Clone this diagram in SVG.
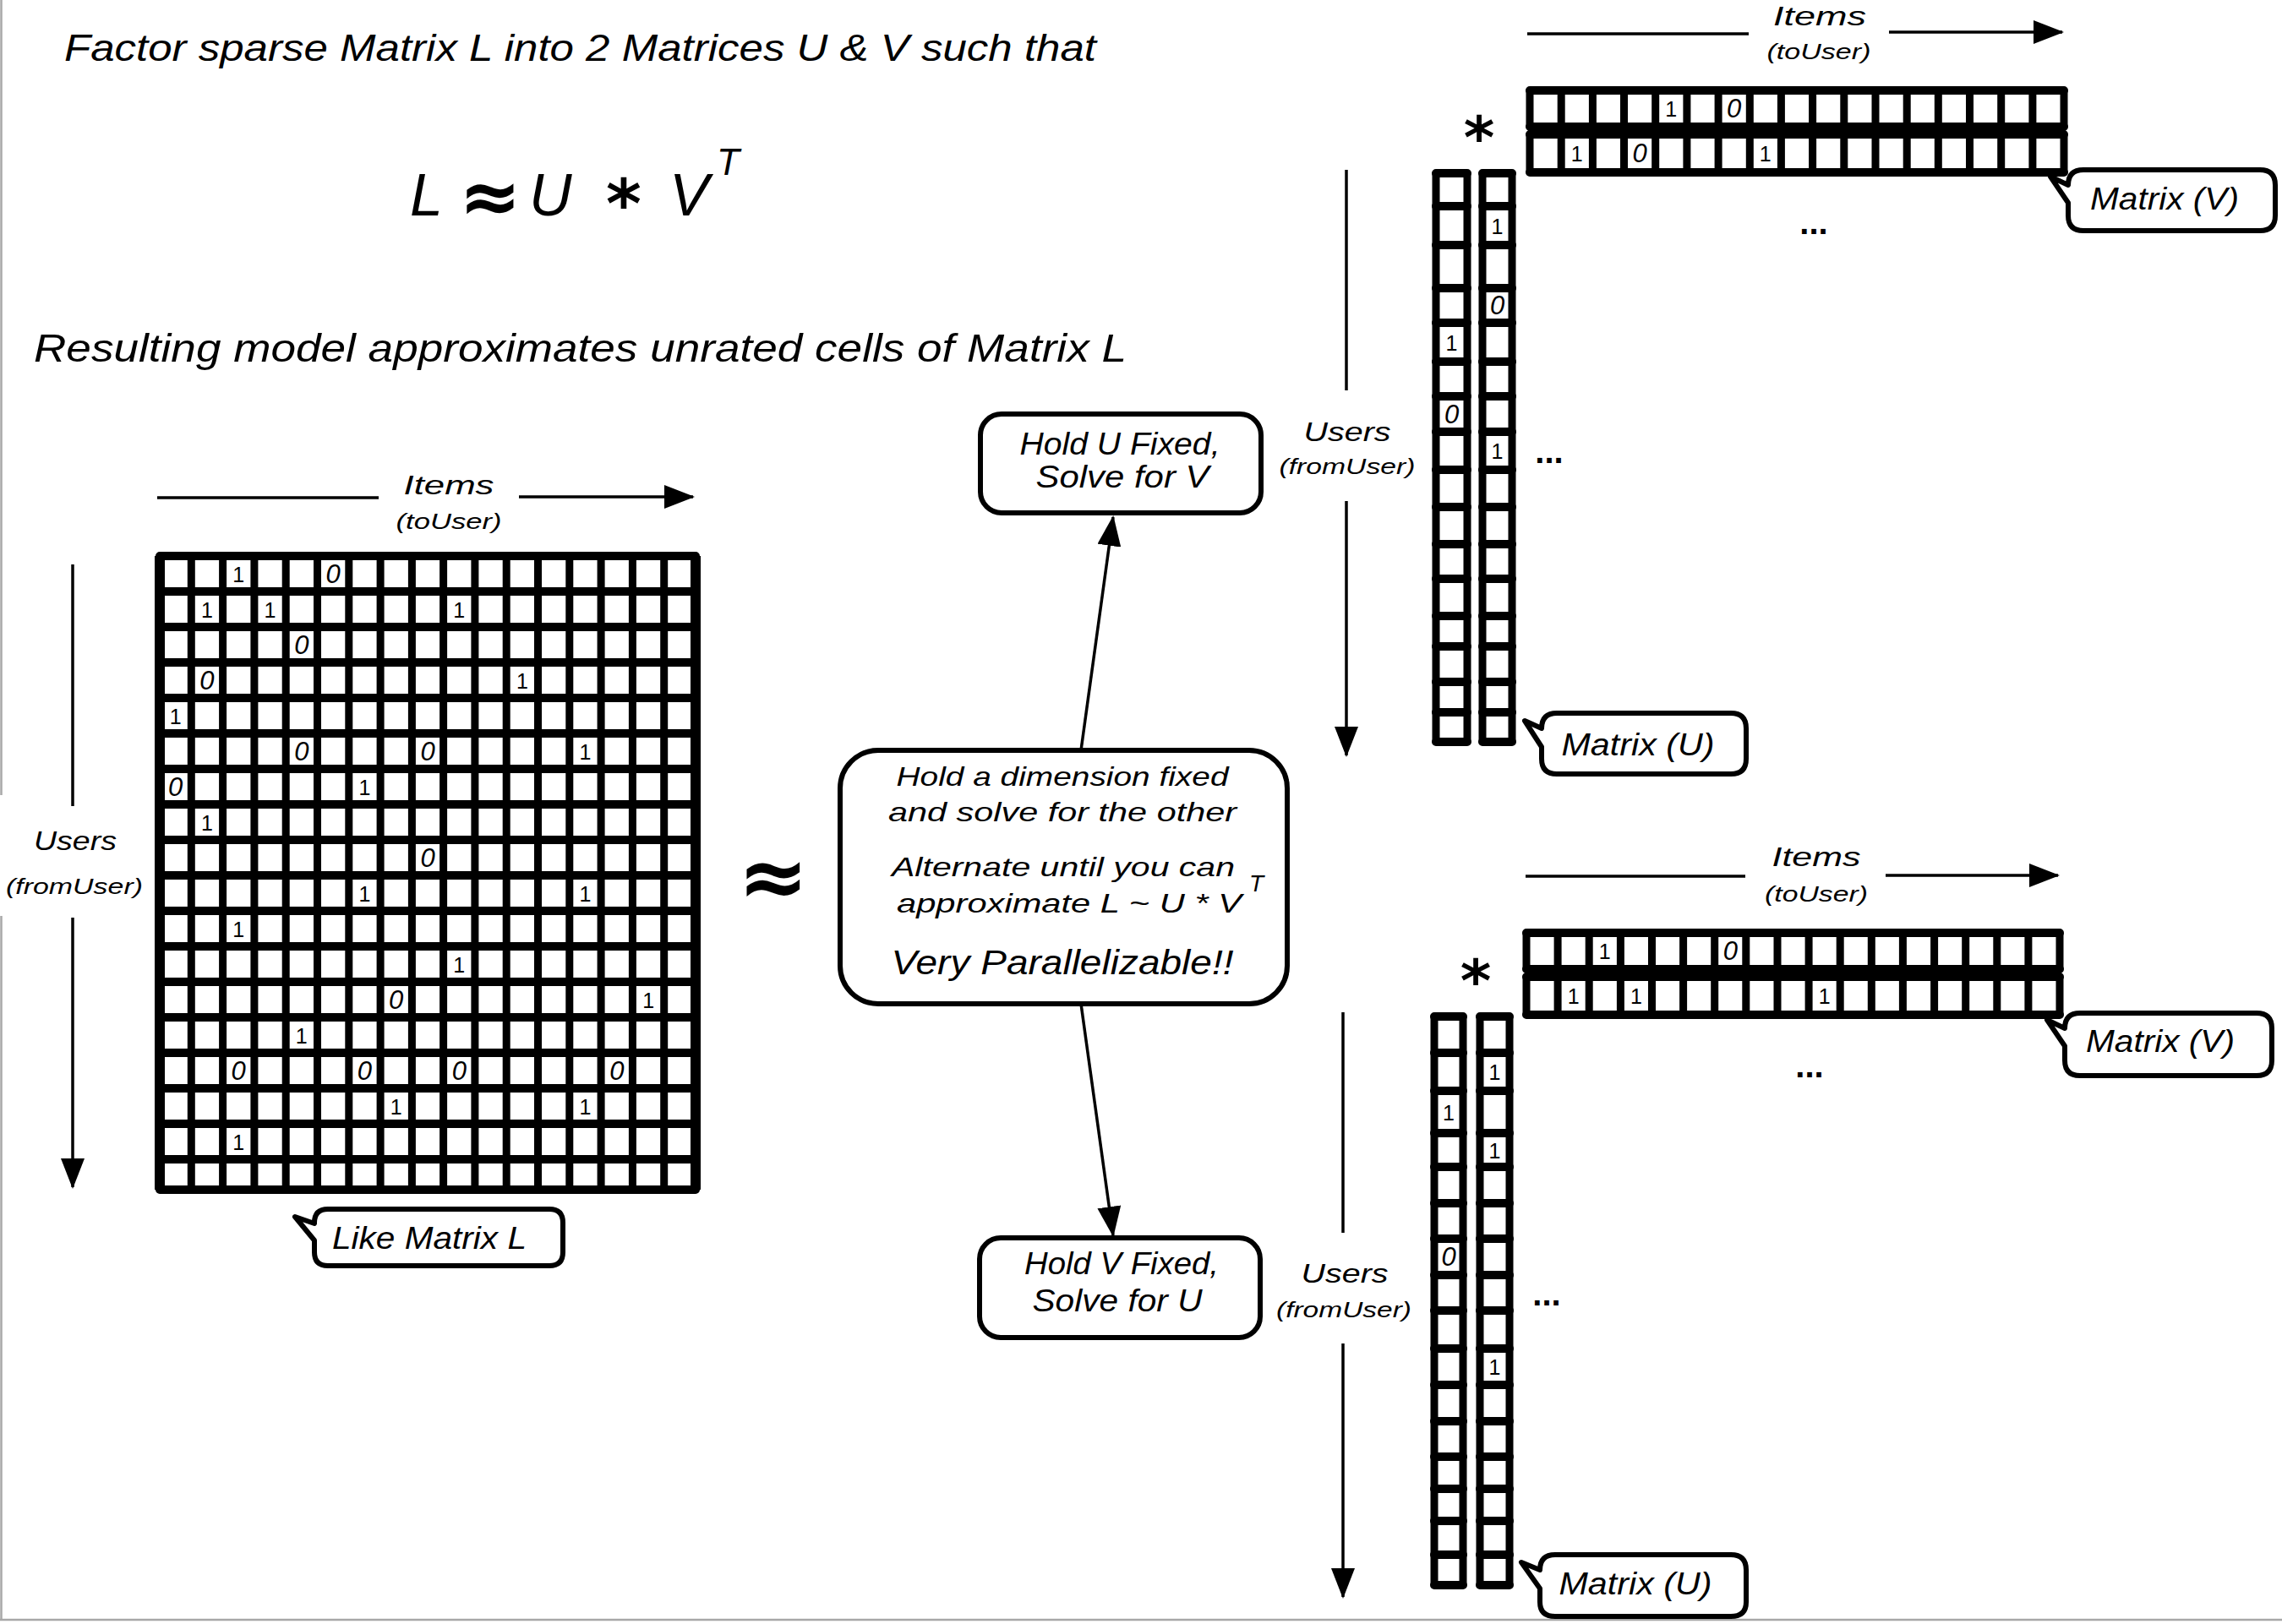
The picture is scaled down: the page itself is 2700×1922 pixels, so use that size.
<svg xmlns="http://www.w3.org/2000/svg" width="2700" height="1922" viewBox="0 0 2700 1922">
<defs>
<style>
.h{font-family:"Liberation Sans",Arial,sans-serif;font-style:italic;fill:#000}
.m{text-anchor:middle}
.d0{font-family:"Liberation Sans",Arial,sans-serif;font-style:italic;font-size:31px;text-anchor:middle;fill:#000}
.d1{font-family:"Liberation Sans",Arial,sans-serif;font-size:25px;text-anchor:middle;fill:#000}
.gh{fill:none;stroke:#000;stroke-width:10;stroke-linecap:round}
.gv{fill:none;stroke:#000;stroke-width:9;stroke-linecap:butt}
.ax{fill:none;stroke:#000;stroke-width:3.5}
.box{fill:#fff;stroke:#000;stroke-width:6;stroke-linejoin:round}
.frame{fill:none;stroke:#a8a8a8;stroke-width:2.5}
</style>
<marker id="arr" markerUnits="userSpaceOnUse" markerWidth="36" markerHeight="28" refX="34" refY="14" orient="auto">
<path d="M0 0L36 14L0 28Z" fill="#000"/>
</marker>
</defs>
<rect width="2700" height="1922" fill="#fff"/>
<g id="frame">
<path class="frame" d="M1.5 0V941M1.5 1084V1917M0 1917H2700"/>
</g>

<g id="headings">
<text class="h" x="76" y="72" font-size="44" textLength="1221" lengthAdjust="spacingAndGlyphs">Factor sparse Matrix L into 2 Matrices U &amp; V such that</text>
<text class="h" font-size="70" x="485" y="255">L</text>
<text font-family="DejaVu Sans,sans-serif" font-weight="bold" font-size="88" x="580" y="263" text-anchor="middle">≈</text>
<text class="h" font-size="70" x="626" y="255">U</text>
<text font-family="DejaVu Sans,sans-serif" font-weight="bold" font-size="80" x="738" y="269" text-anchor="middle">*</text>
<text class="h" font-size="70" x="792" y="255">V</text>
<text class="h" font-size="44" x="848" y="207">T</text>
<text class="h" x="40" y="428" font-size="46" textLength="1293" lengthAdjust="spacingAndGlyphs">Resulting model approximates unrated cells of Matrix L</text>
<text font-family="DejaVu Sans,sans-serif" font-weight="bold" font-size="100" x="915" y="1072" text-anchor="middle">≈</text>
</g>

<g id="axes-L">
<path class="ax" d="M186 589H448"/>
<path class="ax" d="M614 588H820" marker-end="url(#arr)"/>
<text class="h m" x="531" y="585" font-size="32" textLength="107" lengthAdjust="spacingAndGlyphs">Items</text>
<text class="h m" x="531" y="626" font-size="26" textLength="125" lengthAdjust="spacingAndGlyphs">(toUser)</text>
<path class="ax" d="M86 668V954"/>
<path class="ax" d="M86 1086V1405" marker-end="url(#arr)"/>
<text class="h m" x="89" y="1006" font-size="32" textLength="98" lengthAdjust="spacingAndGlyphs">Users</text>
<text class="h m" x="88" y="1058" font-size="26" textLength="162" lengthAdjust="spacingAndGlyphs">(fromUser)</text>
</g>

<g id="matrix-L">
<path class="gv" d="M189 658V1408M226.3 658V1408M263.6 658V1408M300.9 658V1408M338.2 658V1408M375.5 658V1408M412.8 658V1408M450.1 658V1408M487.4 658V1408M524.6 658V1408M561.9 658V1408M599.2 658V1408M636.5 658V1408M673.8 658V1408M711.1 658V1408M748.4 658V1408M785.7 658V1408M823 658V1408"/>
<path class="gh" d="M189 658H823M189 700H823M189 742H823M189 784H823M189 826H823M189 868H823M189 910H823M189 952H823M189 994H823M189 1036H823M189 1078H823M189 1120H823M189 1162H823M189 1204H823M189 1246H823M189 1288H823M189 1330H823M189 1372H823M189 1408H823"/>
<path fill="none" stroke="#000" stroke-width="12" d="M189 658V1408M823 658V1408"/>
<text class="d1" x="282.2" y="689">1</text><text class="d0" x="394.1" y="690">0</text>
<text class="d1" x="244.9" y="731">1</text><text class="d1" x="319.5" y="731">1</text><text class="d1" x="543.3" y="731">1</text>
<text class="d0" x="356.8" y="774">0</text>
<text class="d0" x="244.9" y="816">0</text><text class="d1" x="617.9" y="815">1</text>
<text class="d1" x="207.6" y="857">1</text>
<text class="d0" x="356.8" y="900">0</text><text class="d0" x="506" y="900">0</text><text class="d1" x="692.5" y="899">1</text>
<text class="d0" x="207.6" y="942">0</text><text class="d1" x="431.4" y="941">1</text>
<text class="d1" x="244.9" y="983">1</text>
<text class="d0" x="506" y="1026">0</text>
<text class="d1" x="431.4" y="1067">1</text><text class="d1" x="692.5" y="1067">1</text>
<text class="d1" x="282.2" y="1109">1</text>
<text class="d1" x="543.3" y="1151">1</text>
<text class="d0" x="468.7" y="1194">0</text><text class="d1" x="767.1" y="1193">1</text>
<text class="d1" x="356.8" y="1235">1</text>
<text class="d0" x="282.2" y="1278">0</text><text class="d0" x="431.4" y="1278">0</text><text class="d0" x="543.3" y="1278">0</text><text class="d0" x="729.8" y="1278">0</text>
<text class="d1" x="468.7" y="1319">1</text><text class="d1" x="692.5" y="1319">1</text>
<text class="d1" x="282.2" y="1361">1</text>
</g>

<g id="callout-like-L">
<path class="box" d="M388 1431H650Q666 1431 666 1447V1482Q666 1498 650 1498H388Q372 1498 372 1482V1468L349 1440L372 1448V1447Q372 1431 388 1431Z"/>
<text class="h m" x="508" y="1478" font-size="36" textLength="230" lengthAdjust="spacingAndGlyphs">Like Matrix L</text>
</g>

<g id="node-alternate">
<rect class="box" x="994" y="888" width="529" height="300" rx="45"/>
<text class="h m" x="1257" y="930" font-size="32" textLength="393" lengthAdjust="spacingAndGlyphs">Hold a dimension fixed</text>
<text class="h m" x="1257" y="972" font-size="32" textLength="412" lengthAdjust="spacingAndGlyphs">and solve for the other</text>
<text class="h m" x="1258" y="1037" font-size="32" textLength="406" lengthAdjust="spacingAndGlyphs">Alternate until you can</text>
<text class="h m" x="1265" y="1080" font-size="32" textLength="408" lengthAdjust="spacingAndGlyphs">approximate L ~ U * V</text>
<text class="h" x="1478" y="1055" font-size="28">T</text>
<text class="h m" x="1257" y="1153" font-size="40" textLength="405" lengthAdjust="spacingAndGlyphs">Very Parallelizable!!</text>
</g>

<g id="node-hold-u">
<rect class="box" x="1160" y="490" width="332" height="117" rx="25"/>
<text class="h m" x="1325" y="538" font-size="36" textLength="237" lengthAdjust="spacingAndGlyphs">Hold U Fixed,</text>
<text class="h m" x="1328" y="577" font-size="36" textLength="205" lengthAdjust="spacingAndGlyphs">Solve for V</text>
</g>

<g id="node-hold-v">
<rect class="box" x="1159" y="1465" width="332" height="118" rx="25"/>
<text class="h m" x="1327" y="1508" font-size="36" textLength="230" lengthAdjust="spacingAndGlyphs">Hold V Fixed,</text>
<text class="h m" x="1322" y="1552" font-size="36" textLength="201" lengthAdjust="spacingAndGlyphs">Solve for U</text>
</g>

<g id="connectors">
<path class="ax" d="M1279 888L1317 612" marker-end="url(#arr)"/>
<path class="ax" d="M1279 1188L1317 1462" marker-end="url(#arr)"/>
</g>

<g id="axes-top">
<path class="ax" d="M1807 40H2069"/>
<path class="ax" d="M2235 38H2440" marker-end="url(#arr)"/>
<text class="h m" x="2153" y="30" font-size="32" textLength="110" lengthAdjust="spacingAndGlyphs">Items</text>
<text class="h m" x="2152" y="70" font-size="26" textLength="123" lengthAdjust="spacingAndGlyphs">(toUser)</text>
<path class="ax" d="M1593 201V462"/>
<path class="ax" d="M1593 593V894" marker-end="url(#arr)"/>
<text class="h m" x="1594" y="522" font-size="32" textLength="103" lengthAdjust="spacingAndGlyphs">Users</text>
<text class="h m" x="1594" y="561" font-size="26" textLength="161" lengthAdjust="spacingAndGlyphs">(fromUser)</text>
<text font-family="DejaVu Sans,sans-serif" font-weight="bold" font-size="70" x="1750" y="187" text-anchor="middle">*</text>
<text font-family="Liberation Sans,sans-serif" font-weight="bold" font-size="40" x="2146" y="277" text-anchor="middle">...</text>
<text font-family="Liberation Sans,sans-serif" font-weight="bold" font-size="40" x="1833" y="548" text-anchor="middle">...</text>
</g>

<g id="matrix-V-top">
<path class="gv" d="M1810 107V150M1847.2 107V150M1884.4 107V150M1921.5 107V150M1958.7 107V150M1995.9 107V150M2033.1 107V150M2070.3 107V150M2107.4 107V150M2144.6 107V150M2181.8 107V150M2219 107V150M2256.2 107V150M2293.3 107V150M2330.5 107V150M2367.7 107V150M2404.9 107V150M2442 107V150"/>
<path class="gv" d="M1810 159V204M1847.2 159V204M1884.4 159V204M1921.5 159V204M1958.7 159V204M1995.9 159V204M2033.1 159V204M2070.3 159V204M2107.4 159V204M2144.6 159V204M2181.8 159V204M2219 159V204M2256.2 159V204M2293.3 159V204M2330.5 159V204M2367.7 159V204M2404.9 159V204M2442 159V204"/>
<path class="gh" d="M1810 107H2442M1810 150H2442M1810 159H2442M1810 204H2442" stroke-width="9"/>
<text class="d1" x="1977.3" y="138">1</text><text class="d0" x="2051.6" y="139">0</text>
<text class="d1" x="1865.8" y="191">1</text><text class="d0" x="1940.1" y="192">0</text><text class="d1" x="2088.8" y="191">1</text>
</g>

<g id="callout-V-top">
<path class="box" d="M2465 201H2674Q2692 201 2692 219V255Q2692 273 2674 273H2465Q2447 273 2447 255V240L2426 209L2447 219Q2447 201 2465 201Z"/>
<text class="h m" x="2561" y="248" font-size="36" textLength="176" lengthAdjust="spacingAndGlyphs">Matrix (V)</text>
</g>

<g id="matrix-U-top">
<path class="gv" d="M1699 205V878M1736 205V878M1754 205V878M1789 205V878"/>
<path class="gh" stroke-width="9" d="M1699 205H1736M1699 244H1736M1699 290H1736M1699 341H1736M1699 382H1736M1699 428H1736M1699 469H1736M1699 511H1736M1699 556H1736M1699 600H1736M1699 644H1736M1699 685H1736M1699 729H1736M1699 765H1736M1699 807H1736M1699 843H1736M1699 878H1736M1754 205H1789M1754 244H1789M1754 290H1789M1754 341H1789M1754 382H1789M1754 428H1789M1754 469H1789M1754 511H1789M1754 556H1789M1754 600H1789M1754 644H1789M1754 685H1789M1754 729H1789M1754 765H1789M1754 807H1789M1754 843H1789M1754 878H1789"/>
<text class="d1" x="1771.5" y="277">1</text>
<text class="d0" x="1771.5" y="372">0</text>
<text class="d1" x="1717.5" y="415">1</text>
<text class="d0" x="1717.5" y="501">0</text>
<text class="d1" x="1771.5" y="543">1</text>
</g>

<g id="callout-U-top">
<path class="box" d="M1842 844H2048Q2066 844 2066 862V898Q2066 916 2048 916H1842Q1824 916 1824 898V884L1804 853L1824 862Q1824 844 1842 844Z"/>
<text class="h m" x="1938" y="894" font-size="36" textLength="181" lengthAdjust="spacingAndGlyphs">Matrix (U)</text>
</g>

<g id="axes-bottom">
<path class="ax" d="M1805 1037H2065"/>
<path class="ax" d="M2231 1036H2435" marker-end="url(#arr)"/>
<text class="h m" x="2149" y="1025" font-size="32" textLength="105" lengthAdjust="spacingAndGlyphs">Items</text>
<text class="h m" x="2149" y="1067" font-size="26" textLength="122" lengthAdjust="spacingAndGlyphs">(toUser)</text>
<path class="ax" d="M1589 1198V1459"/>
<path class="ax" d="M1589 1590V1890" marker-end="url(#arr)"/>
<text class="h m" x="1591" y="1518" font-size="32" textLength="103" lengthAdjust="spacingAndGlyphs">Users</text>
<text class="h m" x="1590" y="1559" font-size="26" textLength="160" lengthAdjust="spacingAndGlyphs">(fromUser)</text>
<text font-family="DejaVu Sans,sans-serif" font-weight="bold" font-size="70" x="1746" y="1185" text-anchor="middle">*</text>
<text font-family="Liberation Sans,sans-serif" font-weight="bold" font-size="40" x="2141" y="1275" text-anchor="middle">...</text>
<text font-family="Liberation Sans,sans-serif" font-weight="bold" font-size="40" x="1830" y="1545" text-anchor="middle">...</text>
</g>

<g id="matrix-V-bottom">
<path class="gv" d="M1806 1104V1147M1843.1 1104V1147M1880.2 1104V1147M1917.4 1104V1147M1954.5 1104V1147M1991.6 1104V1147M2028.7 1104V1147M2065.8 1104V1147M2103 1104V1147M2140.1 1104V1147M2177.2 1104V1147M2214.3 1104V1147M2251.4 1104V1147M2288.6 1104V1147M2325.7 1104V1147M2362.8 1104V1147M2399.9 1104V1147M2437 1104V1147"/>
<path class="gv" d="M1806 1156V1201M1843.1 1156V1201M1880.2 1156V1201M1917.4 1156V1201M1954.5 1156V1201M1991.6 1156V1201M2028.7 1156V1201M2065.8 1156V1201M2103 1156V1201M2140.1 1156V1201M2177.2 1156V1201M2214.3 1156V1201M2251.4 1156V1201M2288.6 1156V1201M2325.7 1156V1201M2362.8 1156V1201M2399.9 1156V1201M2437 1156V1201"/>
<path class="gh" stroke-width="9" d="M1806 1104H2437M1806 1147H2437M1806 1156H2437M1806 1201H2437"/>
<text class="d1" x="1898.8" y="1135">1</text><text class="d0" x="2047.3" y="1136">0</text>
<text class="d1" x="1861.7" y="1188">1</text><text class="d1" x="1935.9" y="1188">1</text><text class="d1" x="2158.6" y="1188">1</text>
</g>

<g id="callout-V-bottom">
<path class="box" d="M2461 1199H2670Q2688 1199 2688 1217V1255Q2688 1273 2670 1273H2461Q2443 1273 2443 1255V1238L2422 1207L2443 1217Q2443 1199 2461 1199Z"/>
<text class="h m" x="2556" y="1245" font-size="36" textLength="176" lengthAdjust="spacingAndGlyphs">Matrix (V)</text>
</g>

<g id="matrix-U-bottom">
<path class="gv" d="M1697 1203V1876M1731 1203V1876M1751 1203V1876M1786 1203V1876"/>
<path class="gh" stroke-width="9" d="M1697 1203H1731M1697 1246H1731M1697 1291H1731M1697 1341H1731M1697 1381H1731M1697 1424H1731M1697 1466H1731M1697 1509H1731M1697 1551H1731M1697 1596H1731M1697 1639H1731M1697 1682H1731M1697 1724H1731M1697 1762H1731M1697 1800H1731M1697 1840H1731M1697 1876H1731M1751 1203H1786M1751 1246H1786M1751 1291H1786M1751 1341H1786M1751 1381H1786M1751 1424H1786M1751 1466H1786M1751 1509H1786M1751 1551H1786M1751 1596H1786M1751 1639H1786M1751 1682H1786M1751 1724H1786M1751 1762H1786M1751 1800H1786M1751 1840H1786M1751 1876H1786"/>
<text class="d1" x="1768.5" y="1278">1</text>
<text class="d1" x="1714" y="1326">1</text>
<text class="d1" x="1768.5" y="1371">1</text>
<text class="d0" x="1714" y="1498">0</text>
<text class="d1" x="1768.5" y="1627">1</text>
</g>

<g id="callout-U-bottom">
<path class="box" d="M1840 1840H2048Q2066 1840 2066 1858V1896Q2066 1913 2048 1913H1840Q1822 1913 1822 1896V1880L1800 1849L1822 1858Q1822 1840 1840 1840Z"/>
<text class="h m" x="1935" y="1887" font-size="36" textLength="181" lengthAdjust="spacingAndGlyphs">Matrix (U)</text>
</g>
</svg>
